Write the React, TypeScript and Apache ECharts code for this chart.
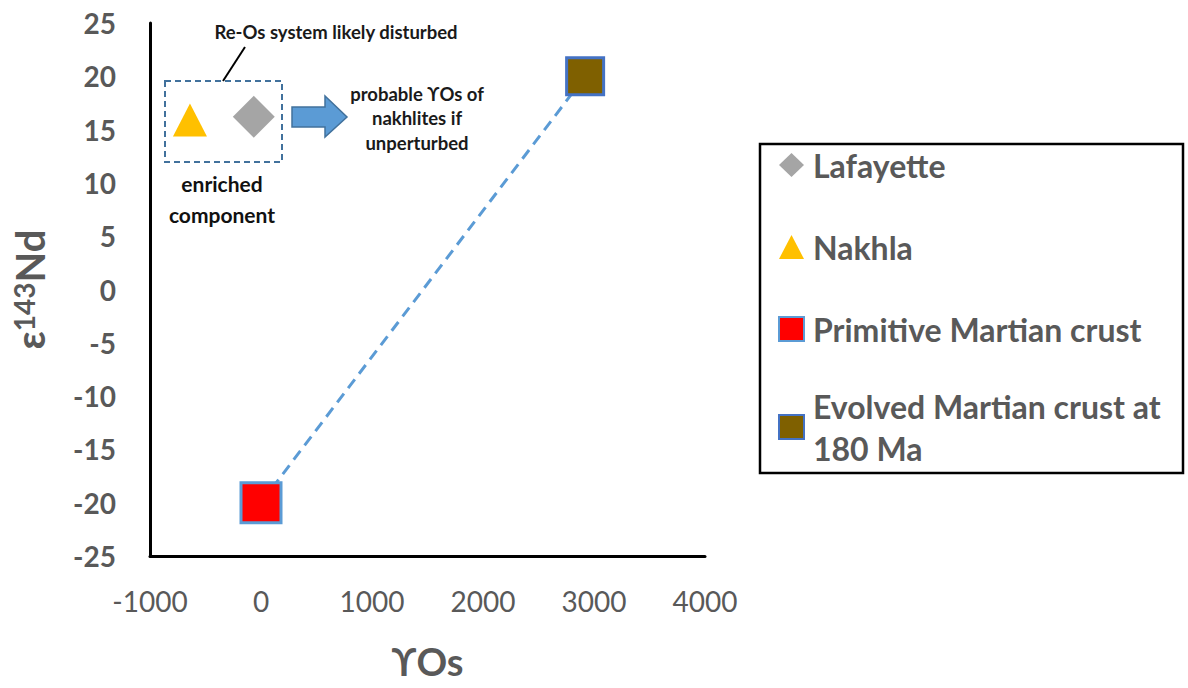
import React, { useEffect, useRef } from "react";
import * as echarts from "echarts";

// ---- data ----
const xRange = [-1000, 4000];
const xStep = 1000;
const yRange = [-25, 25];
const yStep = 5;

const lafayette = [[-65, 16.2]];
const nakhla = [[-640, 15.9]];
const primitiveCrust = [[0, -20]];
const evolvedCrust = [[2920, 20]];
const mixingLine = [[0, -20], [2920, 20]];

const legendNames = [
  "Lafayette",
  "Nakhla",
  "Primitive Martian crust",
  "Evolved Martian crust at 180 Ma",
];

const FONT = "Lato, 'Noto Sans', 'DejaVu Sans', sans-serif";
const GRAY = "#595959";

export default function App() {
  const ref = useRef<HTMLDivElement>(null);

  useEffect(() => {
    if (!ref.current) return;
    const chart = echarts.init(ref.current, null, { renderer: "svg" });

    const option: any = {
      animation: false,
      backgroundColor: "#ffffff",
      grid: { left: 150, right: 483, top: 23, bottom: 132, containLabel: false },
      xAxis: {
        type: "value",
        min: xRange[0],
        max: xRange[1],
        interval: xStep,
        axisLine: { show: true, onZero: false, lineStyle: { color: "#000", width: 3 } },
        axisTick: { show: false },
        splitLine: { show: false },
        axisLabel: {
          color: GRAY,
          fontSize: 28,
          fontFamily: FONT,
          margin: 31,
          formatter: (v: number) => String(v),
        },
        name: "ϒOs",
        nameLocation: "middle",
        nameGap: 86,
        nameTextStyle: { color: GRAY, fontSize: 38, fontWeight: "bold", fontFamily: FONT },
      },
      yAxis: {
        type: "value",
        min: yRange[0],
        max: yRange[1],
        interval: yStep,
        axisLine: { show: true, onZero: false, lineStyle: { color: "#000", width: 3 } },
        axisTick: { show: false },
        splitLine: { show: false },
        axisLabel: {
          color: GRAY,
          fontSize: 28,
          fontWeight: "bold",
          fontFamily: FONT,
          margin: 34,
          formatter: (v: number) => String(v),
        },
        name: "{e|ε}{s|143}{n|Nd}",
        nameLocation: "middle",
        nameRotate: 90,
        nameGap: 100,
        nameTextStyle: {
          color: GRAY,
          fontFamily: FONT,
          rich: {
            e: { fontSize: 40, fontWeight: "bold", color: GRAY, fontFamily: FONT, verticalAlign: "bottom" },
            s: { fontSize: 28, fontWeight: "bold", color: GRAY, fontFamily: FONT, verticalAlign: "top" },
            n: { fontSize: 40, fontWeight: "bold", color: GRAY, fontFamily: FONT, verticalAlign: "bottom" },
          },
        },
      },
      legend: {
        orient: "vertical",
        left: 778,
        top: 144,
        padding: 0,
        itemGap: 40,
        itemWidth: 25,
        itemHeight: 24,
        selectedMode: false,
        textStyle: {
          color: GRAY,
          fontSize: 32,
          fontWeight: "bold",
          fontFamily: FONT,
          lineHeight: 42,
          padding: [0, 0, 0, 4],
        },
        formatter: (name: string) =>
          name === legendNames[3] ? "Evolved Martian crust at\n180 Ma" : name,
        data: [
          { name: legendNames[0] },
          { name: legendNames[1] },
          { name: legendNames[2] },
          { name: legendNames[3], textStyle: { padding: [0, 0, -42, 4] } },
        ],
      },
      series: [
        {
          name: "mixing",
          type: "line",
          data: mixingLine,
          symbol: "none",
          showSymbol: false,
          silent: true,
          z: 1,
          lineStyle: { color: "#5B9BD5", width: 3, type: [11, 7] },
        },
        {
          name: legendNames[0],
          type: "scatter",
          data: lafayette,
          symbol: "diamond",
          symbolSize: 42,
          z: 3,
          itemStyle: { color: "#A5A5A5", opacity: 1 },
        },
        {
          name: legendNames[1],
          type: "scatter",
          data: nakhla,
          symbol: "triangle",
          symbolSize: [34, 33],
          z: 3,
          itemStyle: { color: "#FFC000", opacity: 1 },
        },
        {
          name: legendNames[2],
          type: "scatter",
          data: primitiveCrust,
          symbol: "rect",
          symbolSize: 40,
          z: 3,
          itemStyle: { color: "#FF0000", borderColor: "#5B9BD5", borderWidth: 3, opacity: 1 },
        },
        {
          name: legendNames[3],
          type: "scatter",
          data: evolvedCrust,
          symbol: "rect",
          symbolSize: 37,
          z: 3,
          itemStyle: { color: "#7F6000", borderColor: "#4472C4", borderWidth: 3, opacity: 1 },
        },
      ],
      graphic: [
        {
          type: "rect",
          shape: { x: 760, y: 144, width: 423, height: 329 },
          style: { fill: "none", stroke: "#000", lineWidth: 2.5 },
          silent: true,
        },
        {
          type: "rect",
          shape: { x: 165, y: 81, width: 117, height: 81 },
          style: { fill: "none", stroke: "#41719C", lineWidth: 2, lineDash: [6, 4] },
          silent: true,
        },
        {
          type: "line",
          shape: { x1: 223, y1: 81, x2: 245, y2: 47 },
          style: { stroke: "#000", lineWidth: 2 },
          silent: true,
        },
        {
          type: "polygon",
          shape: {
            points: [
              [292, 107],
              [325, 107],
              [325, 96],
              [347, 117],
              [325, 137],
              [325, 127],
              [292, 127],
            ],
          },
          style: { fill: "#5B9BD5", stroke: "#41719C", lineWidth: 1.5 },
          silent: true,
        },
        {
          type: "text",
          x: 336,
          y: 32,
          silent: true,
          style: {
            text: "Re-Os system likely disturbed",
            fontSize: 18.5,
            fontWeight: "bold",
            fontFamily: FONT,
            fill: "#1a1a1a",
            align: "center",
            verticalAlign: "middle",
          },
        },
        {
          type: "text",
          x: 417,
          y: 118,
          silent: true,
          style: {
            text: "probable ϒOs of\nnakhlites if\nunperturbed",
            fontSize: 18.5,
            lineHeight: 24.5,
            fontWeight: "bold",
            fontFamily: FONT,
            fill: "#1a1a1a",
            align: "center",
            verticalAlign: "middle",
          },
        },
        {
          type: "text",
          x: 222,
          y: 199,
          silent: true,
          style: {
            text: "enriched\ncomponent",
            fontSize: 21,
            lineHeight: 31,
            fontWeight: "bold",
            fontFamily: FONT,
            fill: "#111",
            align: "center",
            verticalAlign: "middle",
          },
        },
      ],
    };

    chart.setOption(option);
    return () => chart.dispose();
  }, []);

  return (
    <div
      ref={ref}
      style={{ position: "fixed", left: 0, top: 0, width: 1188, height: 688, background: "#fff" }}
    />
  );
}
